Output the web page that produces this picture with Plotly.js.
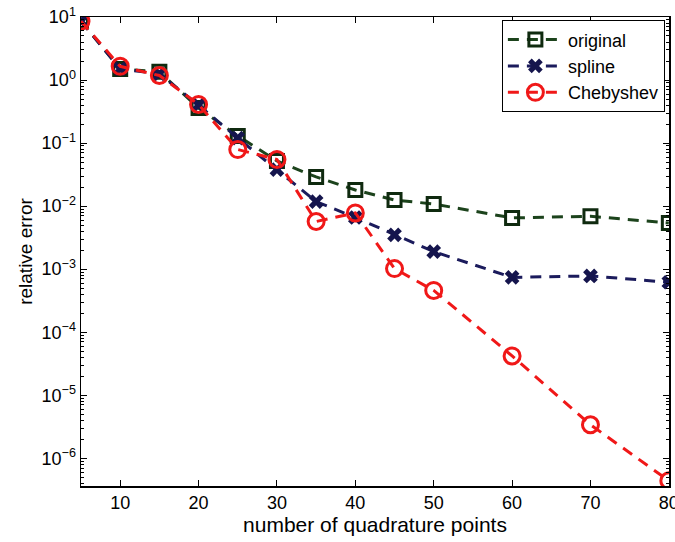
<!DOCTYPE html>
<html>
<head>
<meta charset="utf-8">
<script src="https://cdn.plot.ly/plotly-3.0.1.min.js"></script>
<style>html,body{margin:0;padding:0;background:#fff;}#chart{width:675px;height:542px;}</style>
</head>
<body>
<div id="chart"></div>
<script>
var quadPoints = [5, 10, 15, 20, 25, 30, 35, 40, 45, 50, 60, 70, 80];
var originalErr = [8.6, 1.5, 1.35, 0.36, 0.13, 0.052, 0.029, 0.018, 0.0125, 0.0108, 0.0065, 0.0069, 0.0054];
var splineErr = [8.6, 1.5, 1.25, 0.40, 0.12, 0.038, 0.0118, 0.0066, 0.0035, 0.0019, 0.00074, 0.00078, 0.00062];
var chebyshevErr = [8.6, 1.65, 1.18, 0.41, 0.079, 0.055, 0.0057, 0.0078, 0.00102, 0.00046, 0.000042, 0.0000034, 0.00000044];
var seriesNames = ['original', 'spline', 'Chebyshev'];
var yTickVals = [1e-6, 1e-5, 1e-4, 1e-3, 1e-2, 1e-1, 1, 10];
var yTickText = ['10<sup>\u22126</sup>', '10<sup>\u22125</sup>', '10<sup>\u22124</sup>', '10<sup>\u22123</sup>', '10<sup>\u22122</sup>', '10<sup>\u22121</sup>', '10<sup>0</sup>', '10<sup>1</sup>'];
var xTickVals = [10, 20, 30, 40, 50, 60, 70, 80];

var minorVals = [];
for (var e = -7; e <= 1; e++) {
  for (var m = 2; m <= 9; m++) minorVals.push(m * Math.pow(10, e));
}

var dashPat = '11px,8px';
var traces = [
  {x: quadPoints, y: originalErr, name: seriesNames[0], mode: 'lines+markers',
   line: {color: '#1c431c', width: 3, dash: dashPat},
   marker: {symbol: 'square-open', size: 13, color: '#0f2a0f', line: {width: 3, color: '#0f2a0f'}}},
  {x: quadPoints, y: splineErr, name: seriesNames[1], mode: 'lines+markers',
   line: {color: '#1b1b5c', width: 3, dash: dashPat},
   marker: {symbol: 'x', size: 13, color: '#15154d', line: {width: 0}}},
  {x: quadPoints, y: chebyshevErr, name: seriesNames[2], mode: 'lines+markers',
   line: {color: '#f01818', width: 3, dash: dashPat},
   marker: {symbol: 'circle-open', size: 16, color: '#f01818', line: {width: 3, color: '#f01818'}}}
];

var fontFam = '"Liberation Sans", Arial, Helvetica, sans-serif';
var layout = {
  width: 675, height: 542,
  margin: {l: 81, r: 6, t: 17, b: 56},
  paper_bgcolor: '#fff', plot_bgcolor: '#fff',
  font: {family: fontFam, size: 18, color: '#000'},
  showlegend: true,
  legend: {x: 0.993, y: 0.993, xanchor: 'right', yanchor: 'top',
           bgcolor: '#fff', bordercolor: '#000', borderwidth: 1,
           font: {family: fontFam, size: 18, color: '#000'}, itemwidth: 55, tracegroupgap: 0},
  xaxis: {
    range: [5, 80.02], tickmode: 'array', tickvals: xTickVals,
    ticks: 'inside', ticklen: 6, tickwidth: 1, tickcolor: '#000',
    showline: true, linecolor: '#000', linewidth: 1.5, mirror: 'allticks',
    showgrid: false, zeroline: false, ticklabeloverflow: 'allow',
    tickfont: {size: 18},
    title: {text: 'number of quadrature points', font: {size: 21}, standoff: 4}
  },
  yaxis: {
    type: 'log', range: [-6.44, 1], tickmode: 'array', tickvals: yTickVals, ticktext: yTickText,
    ticks: 'inside', ticklen: 6, tickwidth: 1, tickcolor: '#000',
    showline: true, linecolor: '#000', linewidth: 1.5, mirror: 'allticks',
    showgrid: false, zeroline: false,
    tickfont: {size: 18},
    minor: {tickmode: 'array', tickvals: minorVals, ticks: 'inside', ticklen: 3, tickcolor: '#000', showgrid: false},
    title: {text: 'relative error', font: {size: 19}, standoff: 4}
  }
};

Plotly.newPlot('chart', traces, layout, {displayModeBar: false, staticPlot: true});
</script>
</body>
</html>
